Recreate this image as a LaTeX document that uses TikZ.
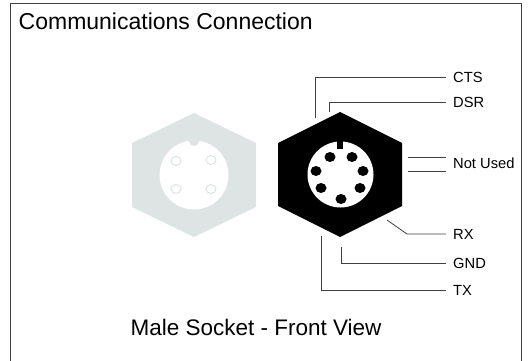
\documentclass[tikz,border=0pt]{standalone}
\usepackage{fontspec}
\setmainfont{Liberation Sans}
\definecolor{nutgrey}{RGB}{221,228,227}
\tikzset{
  wire/.style={draw=black!75,line width=.8pt},
  pinlabel/.style={anchor=west,inner sep=0pt,font=\fontsize{14.7}{16}\selectfont},
  bigtext/.style={inner sep=0pt,font=\fontsize{22.5}{26}\selectfont}
}
\begin{document}
\begin{tikzpicture}[x=1pt,y=-1pt]
\useasboundingbox (0,0) rectangle (528,361);
\draw[black!75,line width=1pt] (10,361) -- (10,3.5) -- (521.5,3.5) -- (521.5,361);
\node[bigtext,anchor=west,font=\fontsize{23}{26}\selectfont] (title) at (18.5,21) {Communications Connection};
\node[bigtext] (caption) at (256,327) {Male Socket - Front View};
\fill[nutgrey] (194,113) -- (256,143) -- (256,207) -- (194,237) -- (132,207) -- (132,143) -- cycle;
\fill[white] (194,175) circle (34.5);
\fill[nutgrey] (194,141) circle (5);
\foreach \x/\y in {176/161,211/160,176/189,211/189}
  \draw[nutgrey,line width=1pt] (\x,\y) ellipse (5 and 4.5);
\fill[black] (340,112) -- (402,143) -- (402,206) -- (340,237) -- (278,206) -- (278,143) -- cycle;
\fill[white] (340.5,174.5) circle (33);
\fill[black] (337,141) rectangle (343,149);
\foreach \x/\y in {330/157,352/157,316/171,363/171,321/188,360/188,341/199}
  \fill[black] (\x,\y) ellipse (5.5 and 5);
\node[pinlabel] (cts) at (453,77) {CTS};
\node[pinlabel] (dsr) at (453,102) {DSR};
\node[pinlabel] (notused) at (453,163) {Not Used};
\node[pinlabel] (rx) at (453,234) {RX};
\node[pinlabel] (gnd) at (453,263) {GND};
\node[pinlabel] (tx) at (453,290) {TX};
\coordinate (ctsend) at (315,118);
\coordinate (dsrend) at (329,112);
\coordinate (nuatop) at (408,157);
\coordinate (nubot) at (408,171);
\coordinate (nuatopr) at (446,157);
\coordinate (nubotr) at (446,171);
\coordinate (rxend) at (387,220);
\coordinate (rxbend) at (407,234);
\coordinate (gndend) at (341,247);
\coordinate (txend) at (321,236);
\draw[wire] (ctsend) |- ([xshift=-7pt]cts.west);
\draw[wire] (dsrend) |- ([xshift=-7pt]dsr.west);
\draw[wire] (nuatop) -- (nuatopr);
\draw[wire] (nubot) -- (nubotr);
\draw[wire] (rxend) -- (rxbend) -- ([xshift=-7pt]rx.west);
\draw[wire] (gndend) |- ([xshift=-7pt]gnd.west);
\draw[wire] (txend) |- ([xshift=-7pt]tx.west);
\end{tikzpicture}
\end{document}
